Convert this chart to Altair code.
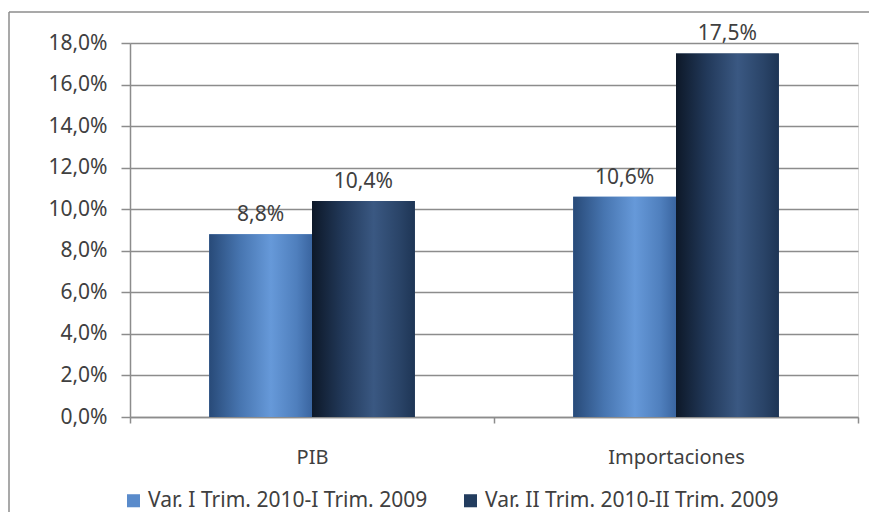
import altair as alt
import pandas as pd

categories = ["PIB", "Importaciones"]
series = ["Var. I Trim. 2010-I Trim. 2009", "Var. II Trim. 2010-II Trim. 2009"]
serie1 = [0.088, 0.106]
serie2 = [0.104, 0.175]
y_ticks = [0, 0.02, 0.04, 0.06, 0.08, 0.10, 0.12, 0.14, 0.16, 0.18]

rows = []
for i, c in enumerate(categories):
    rows.append({"cat": c, "serie": series[0], "value": serie1[i]})
    rows.append({"cat": c, "serie": series[1], "value": serie2[i]})
df = pd.DataFrame(rows)

FONT = "Noto Sans"
TXT = "#404040"
GRID = "#8c8c8c"
FS = 21

x_enc = alt.X("cat:N", sort=categories, title=None,
              scale=alt.Scale(paddingInner=0, paddingOuter=0),
              axis=alt.Axis(labelAngle=0, labelFontSize=FS - 1, labelFont=FONT, labelColor=TXT,
                            labelPadding=24, tickBand="extent", ticks=True, tickSize=6,
                            tickColor=GRID, domainColor=GRID, domainWidth=1.5, tickWidth=1.5,
                            grid=False))
xoff_enc = alt.XOffset("serie:N", sort=series, scale=alt.Scale(paddingOuter=0.77, paddingInner=0))
y_enc = alt.Y("value:Q", title=None,
              scale=alt.Scale(domain=[0, 0.18], nice=False),
              axis=alt.Axis(values=y_ticks,
                            labelExpr="replace(format(datum.value, '.1%'), '.', ',')",
                            labelFontSize=FS, labelFont=FONT, labelColor=TXT, labelPadding=14,
                            tickSize=9, tickColor=GRID, tickWidth=1.5,
                            domainColor=GRID, domainWidth=1.5,
                            grid=True, gridColor=GRID, gridWidth=1.5))

base = alt.Chart(df)

solid = base.mark_bar().encode(
    x=x_enc, xOffset=xoff_enc, y=y_enc,
    color=alt.Color("serie:N", sort=series,
                    scale=alt.Scale(domain=series, range=["#5a8bcb", "#233d5f"]),
                    legend=alt.Legend(title=None, orient="none", direction="horizontal",
                                      legendX=-7, legendY=447,
                                      labelFont=FONT, labelFontSize=FS, labelColor=TXT,
                                      symbolType="square", symbolSize=170,
                                      symbolStrokeWidth=0, symbolOpacity=1,
                                      labelOffset=4, columnPadding=32, labelLimit=400))
)

grad1 = alt.Gradient(gradient="linear", x1=0, x2=1, y1=0, y2=0, stops=[
    alt.GradientStop(color="#284a78", offset=0),
    alt.GradientStop(color="#4775b0", offset=0.3),
    alt.GradientStop(color="#6699d9", offset=0.6),
    alt.GradientStop(color="#4f7fbd", offset=0.85),
    alt.GradientStop(color="#3a65a0", offset=1),
])
grad2 = alt.Gradient(gradient="linear", x1=0, x2=1, y1=0, y2=0, stops=[
    alt.GradientStop(color="#0d1828", offset=0),
    alt.GradientStop(color="#22395a", offset=0.3),
    alt.GradientStop(color="#3a5882", offset=0.6),
    alt.GradientStop(color="#2a4468", offset=0.85),
    alt.GradientStop(color="#1e3555", offset=1),
])

g1 = base.transform_filter(alt.datum.serie == series[0]).mark_bar(fill=grad1).encode(
    x=x_enc, xOffset=xoff_enc, y=y_enc)
g2 = base.transform_filter(alt.datum.serie == series[1]).mark_bar(fill=grad2).encode(
    x=x_enc, xOffset=xoff_enc, y=y_enc)

labels = base.transform_calculate(
    lab="replace(format(datum.value, '.1%'), '.', ',')"
).mark_text(baseline="alphabetic", dy=-13, font=FONT, fontSize=FS, color=TXT).encode(
    x=x_enc, xOffset=xoff_enc, y=y_enc, text="lab:N")

frame_df = pd.DataFrame({"a": [0]})
frame_left = alt.Chart(frame_df).mark_rule(color="#8c8c8c", strokeWidth=1.5).encode(
    x=alt.value(-121), y=alt.value(-31), y2=alt.value(700))
frame_top = alt.Chart(frame_df).mark_rule(color="#8c8c8c", strokeWidth=1.5).encode(
    x=alt.value(-121), x2=alt.value(739), y=alt.value(-31))

chart = alt.layer(frame_left, frame_top, solid, g1, g2, labels).properties(
    width=728, height=374,
    autosize=alt.AutoSizeParams(type="none"),
    padding={"left": 122, "top": 35, "right": 11, "bottom": 95},
).configure_view(stroke=None).configure(background="white")

chart.save("out.html", embed_options={"renderer": "svg", "actions": False})
